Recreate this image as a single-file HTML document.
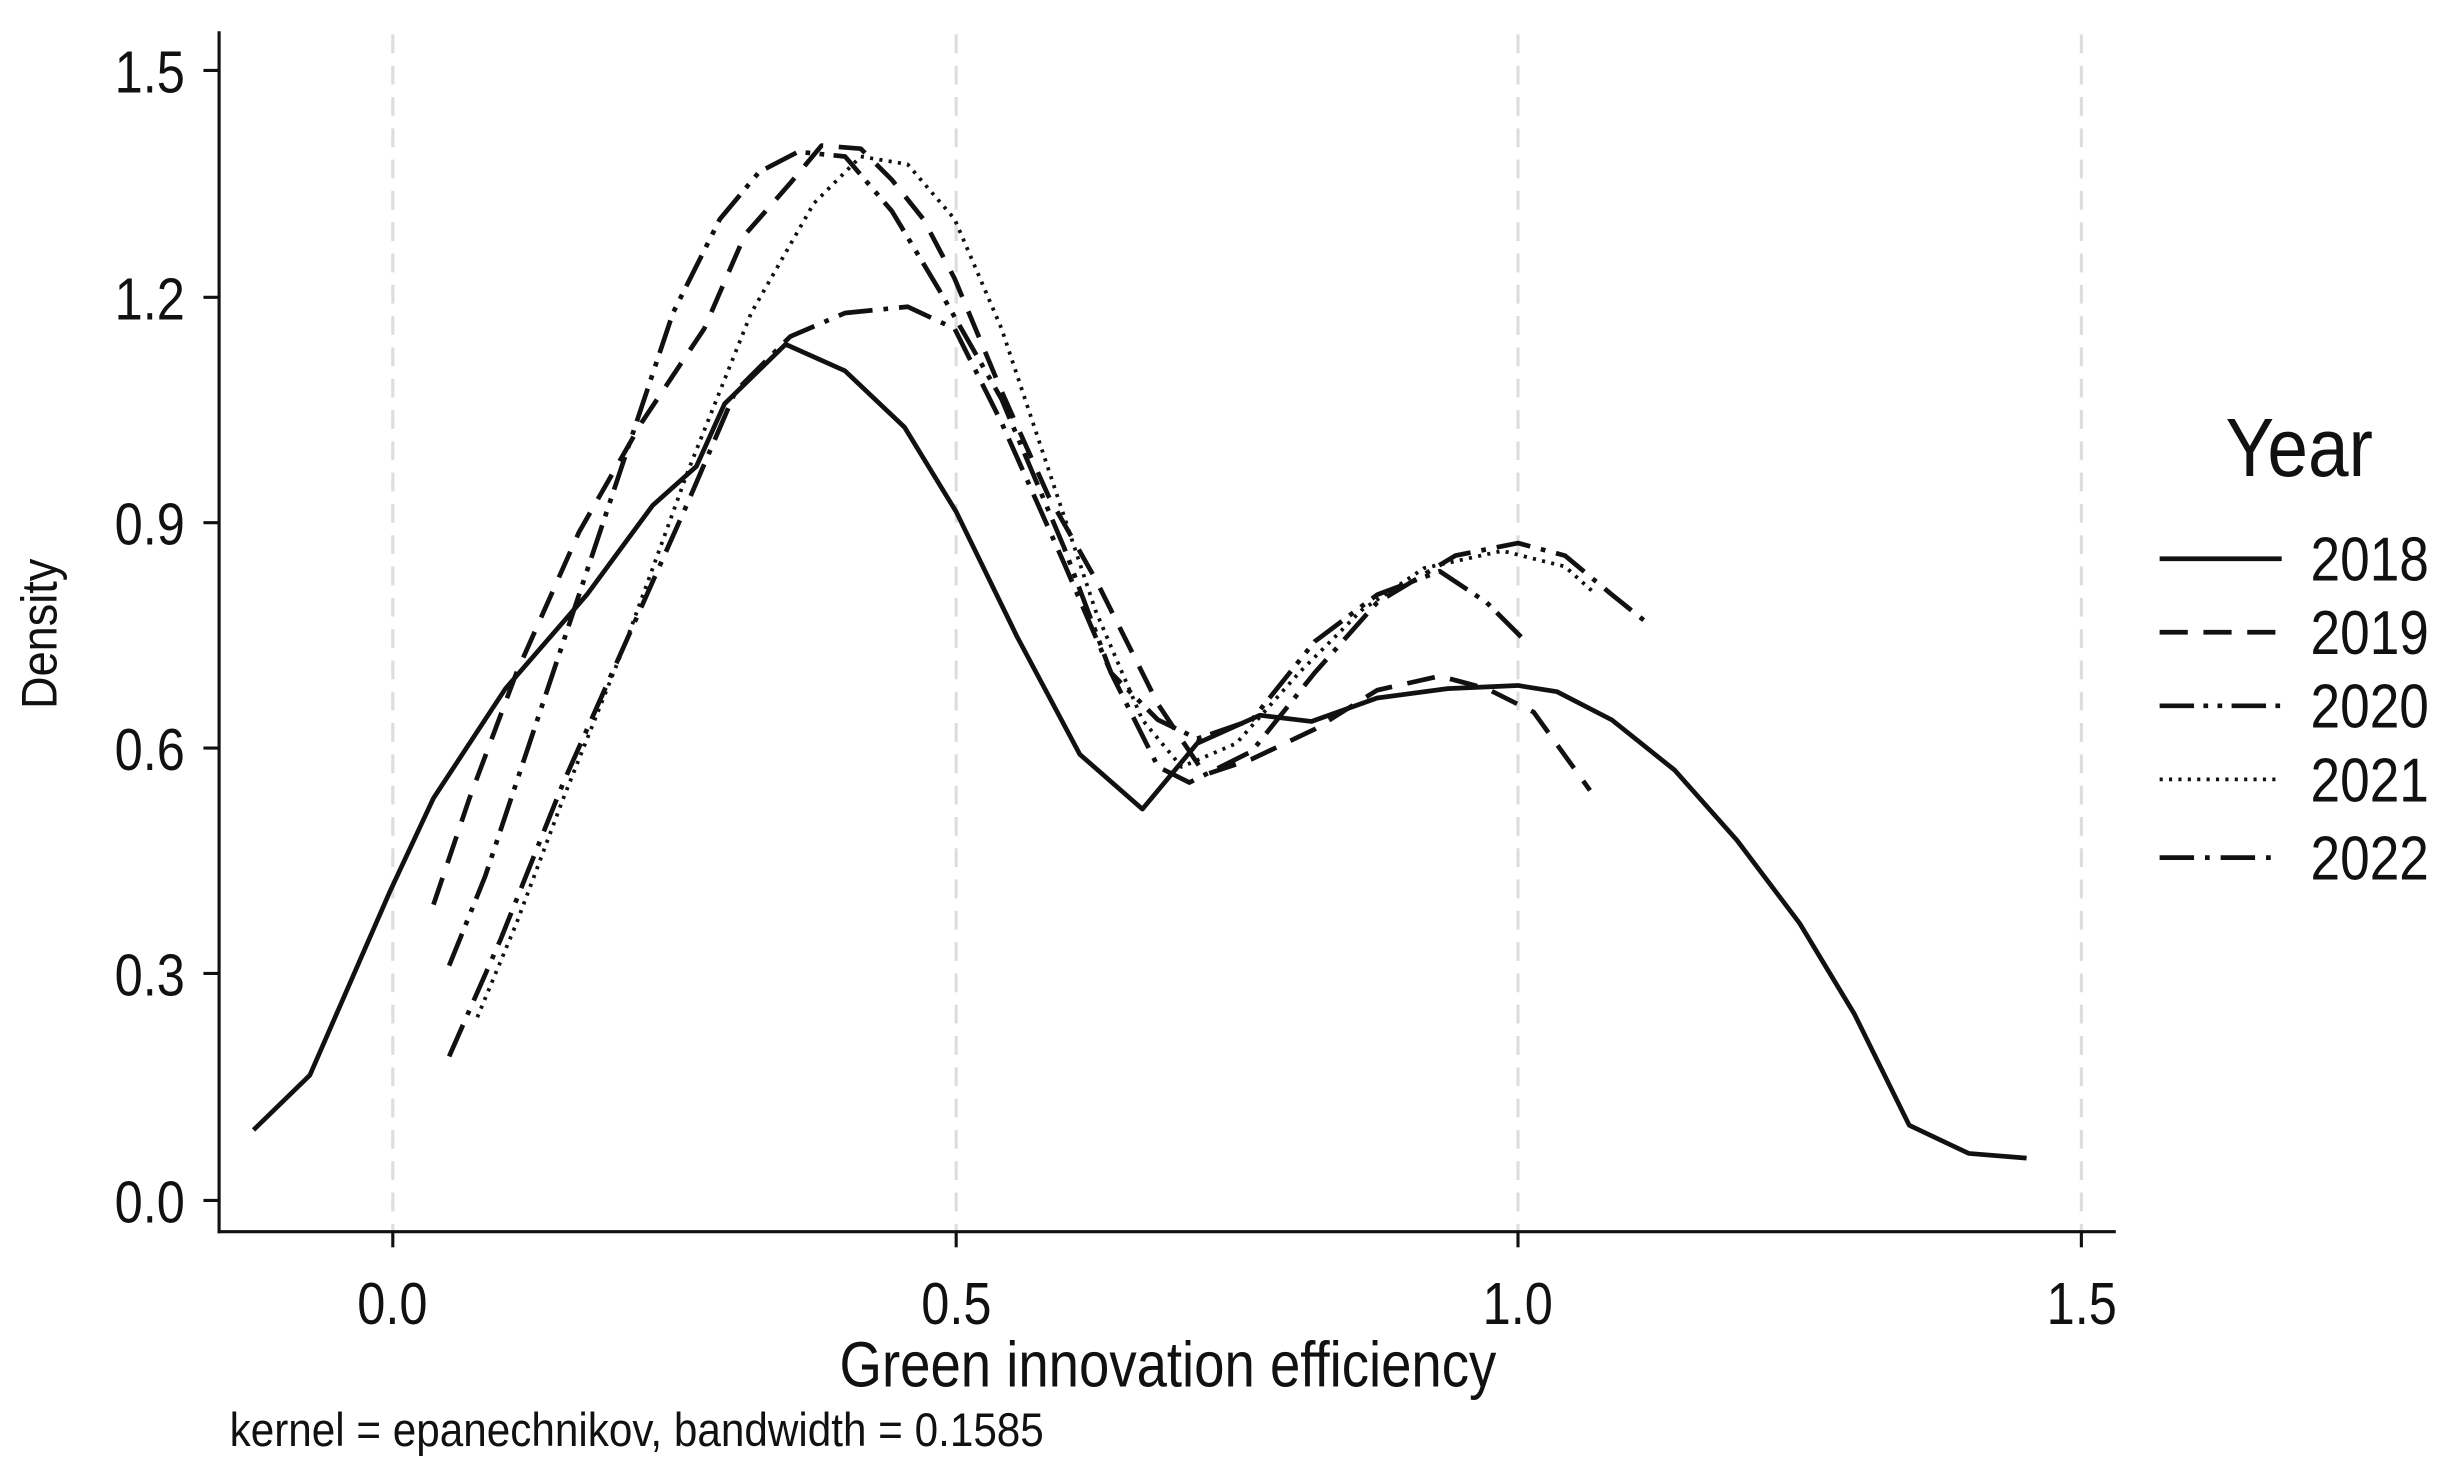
<!DOCTYPE html>
<html><head><meta charset="utf-8"><style>html,body{margin:0;padding:0;background:#fff}svg{display:block}text{font-family:"Liberation Sans",sans-serif;fill:#111}</style></head>
<body>
<svg width="2446" height="1468" viewBox="0 0 1563 938" preserveAspectRatio="none" xmlns="http://www.w3.org/2000/svg">
<rect width="1563" height="938" fill="#fff"/>
<g stroke="#ddd" stroke-width="2" stroke-dasharray="12,8">
<line x1="251" y1="22" x2="251" y2="787"/><line x1="611" y1="22" x2="611" y2="787"/><line x1="970" y1="22" x2="970" y2="787"/><line x1="1330" y1="22" x2="1330" y2="787"/>
</g>
<g stroke="#111" stroke-width="2" fill="none">
<line x1="140" y1="20" x2="140" y2="788"/><line x1="139" y1="787" x2="1352" y2="787"/>
<line x1="130" y1="767" x2="140" y2="767"/><line x1="130" y1="622" x2="140" y2="622"/><line x1="130" y1="478" x2="140" y2="478"/><line x1="130" y1="334" x2="140" y2="334"/><line x1="130" y1="190" x2="140" y2="190"/><line x1="130" y1="45" x2="140" y2="45"/>
<line x1="251" y1="787" x2="251" y2="797"/><line x1="611" y1="787" x2="611" y2="797"/><line x1="970" y1="787" x2="970" y2="797"/><line x1="1330" y1="787" x2="1330" y2="797"/>
</g>
<g transform="scale(0.85,1)" font-size="38" text-anchor="end">
<text x="139" y="781">0.0</text><text x="139" y="636">0.3</text><text x="139" y="492">0.6</text><text x="139" y="348">0.9</text><text x="139" y="204">1.2</text><text x="139" y="59">1.5</text>
</g>
<g transform="scale(0.85,1)" font-size="38" text-anchor="middle">
<text x="295" y="846">0.0</text><text x="719" y="846">0.5</text><text x="1141" y="846">1.0</text><text x="1565" y="846">1.5</text>
<text x="878" y="886" font-size="41">Green innovation efficiency</text>
</g>
<text transform="translate(36,405) rotate(-90) scale(0.9,1)" font-size="32" text-anchor="middle">Density</text>
<text transform="scale(0.9,1)" x="163" y="924" font-size="30">kernel = epanechnikov, bandwidth = 0.1585</text>
<g fill="none" stroke="#111" stroke-width="3" stroke-linejoin="round">
<polyline points="162,722 198,687 249,570 277,510 323,440 375,380 417,323 445,298 463,258 502,220 540,237 578,273 611,327 650,407 690,482 730,517 765,475 805,457 838,461 880,446 925,440 970,438 995,442 1030,460 1070,492 1110,537 1150,590 1185,648 1220,719 1258,737 1295,740"/>
<polyline stroke-dasharray="18,10" points="277,578 300,510 330,430 370,340 410,270 450,210 476,150 505,117 525,93 550,95 570,115 590,140 610,178 640,250 670,317 700,370 740,450 770,495 800,485 840,466 880,441 920,432 950,440 980,455 1016,505"/>
<polyline stroke-dasharray="22,6,3,6,3,6" points="287,617 310,560 340,470 370,380 400,290 430,200 460,140 485,110 510,97 540,100 570,135 600,185 640,255 680,350 710,430 740,460 765,472 800,460 840,410 880,380 920,365 950,385 975,410"/>
<polyline stroke-dasharray="2,4" stroke-width="2.4" points="305,650 330,590 360,510 400,410 440,300 480,200 520,130 550,100 580,105 610,140 640,210 670,300 700,390 730,460 755,490 790,475 830,430 870,390 910,363 960,352 1000,362 1020,380"/>
<polyline stroke-dasharray="22,7,3,7" points="287,675 320,600 360,500 400,410 440,320 470,250 505,215 540,200 580,196 610,210 640,270 680,360 710,430 740,490 760,500 800,480 840,430 880,385 930,355 970,347 1000,355 1030,380 1055,400"/>
</g>
<text transform="scale(0.88,1)" x="1616" y="304" font-size="53">Year</text>
<g fill="none" stroke="#111" stroke-width="3">
<line x1="1380" y1="357" x2="1458" y2="357"/>
<line x1="1380" y1="404" x2="1458" y2="404" stroke-dasharray="18,10"/>
<line x1="1380" y1="451" x2="1458" y2="451" stroke-dasharray="22,6,3,6,3,6"/>
<line x1="1380" y1="498" x2="1458" y2="498" stroke-dasharray="2,4" stroke-width="2.4"/>
<line x1="1380" y1="548" x2="1458" y2="548" stroke-dasharray="22,7,3,7"/>
</g>
<g transform="scale(0.85,1)" font-size="40">
<text x="1737" y="371">2018</text><text x="1737" y="418">2019</text><text x="1737" y="465">2020</text><text x="1737" y="512">2021</text><text x="1737" y="562">2022</text>
</g>
</svg>
</body></html>
